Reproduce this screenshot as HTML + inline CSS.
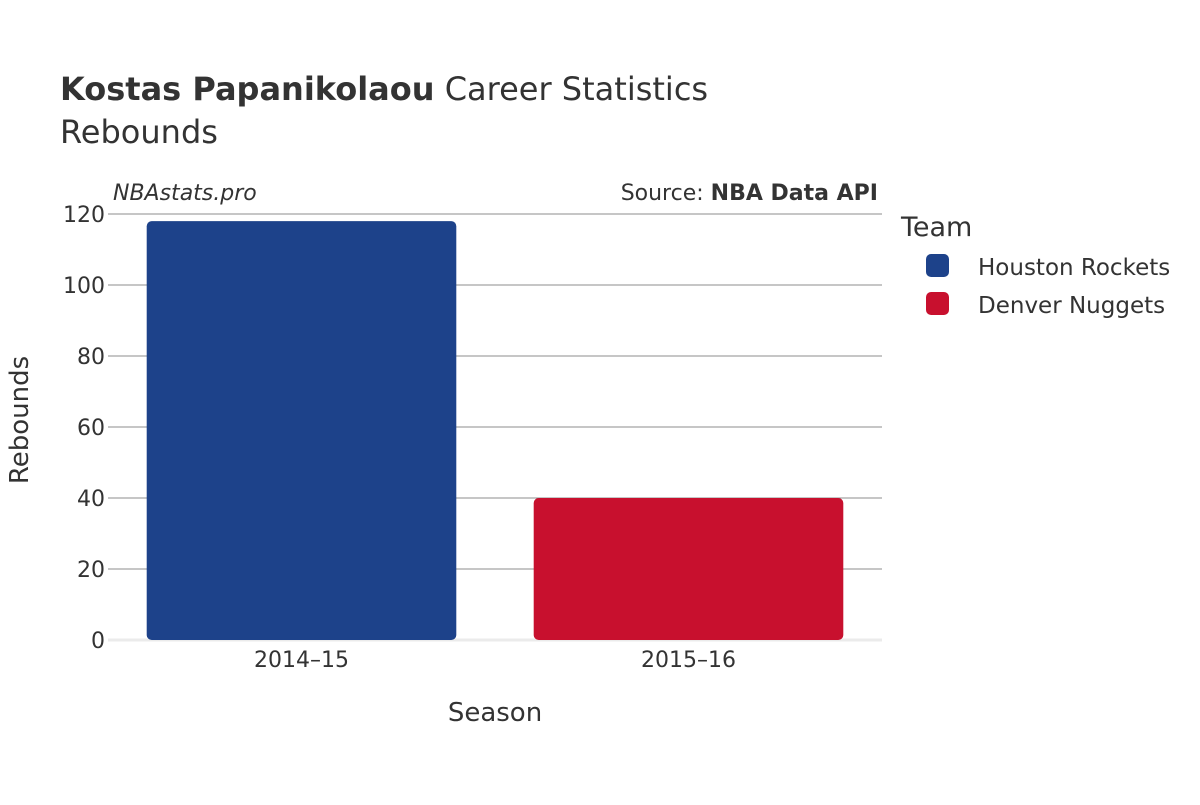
<!DOCTYPE html>
<html><head><meta charset="utf-8"><style>
body{margin:0;background:#fff;}
svg{font-family:"DejaVu Sans","Liberation Sans",sans-serif;}
</style></head><body>
<svg id="chart" width="1200" height="800">
<text x="60" y="100" font-size="32" fill="#333"><tspan font-weight="bold">Kostas Papanikolaou</tspan> Career Statistics</text>
<text x="60" y="143" font-size="32" fill="#333">Rebounds</text>
<text x="113" y="200" font-size="22" font-style="italic" fill="#333">NBAstats.pro</text>
<text x="878" y="200" font-size="22" fill="#333" text-anchor="end">Source: <tspan font-weight="bold">NBA Data API</tspan></text>
<g id="grid"></g>
<g id="yticks"></g>
<g id="bars"></g>
<g id="xticks"></g>
<text x="28" y="420" font-size="26" fill="#333" text-anchor="middle" transform="rotate(-90 28 420)">Rebounds</text>
<text x="495" y="721" font-size="26" fill="#333" text-anchor="middle">Season</text>
<text x="901" y="236" font-size="27" fill="#333">Team</text>
<g id="legend"></g>
</svg>
<script>
const categories=["2014–15","2015–16"];
const values=[118,40];
const teams=["Houston Rockets","Denver Nuggets"];
const colors=["#1d428a","#c8102e"];
const yTicks=[0,20,40,60,80,100,120];
const ns="http://www.w3.org/2000/svg";
const X0=108,X1=882,Y0=640,Y1=214,YMAX=120;
const y=v=>Y0-(v/YMAX)*(Y0-Y1);
const band=(X1-X0)/categories.length;
const xc=i=>X0+band*(i+0.5);
function mk(tag,attrs,parent){const e=document.createElementNS(ns,tag);for(const k in attrs)e.setAttribute(k,attrs[k]);parent.appendChild(e);return e;}
const grid=document.getElementById('grid'),yt=document.getElementById('yticks');
yTicks.forEach(t=>{
  const l=mk('line',{x1:X0,x2:X1,y1:y(t),y2:y(t),stroke:t===0?'#ebebeb':'#8c8c8c','stroke-width':t===0?3:1},grid);
  
  
  const tx=mk('text',{x:X0-3,y:y(t)+8,'font-size':22,fill:'#333','text-anchor':'end'},yt);
  tx.textContent=t;
  
  
});
const bars=document.getElementById('bars'),xt=document.getElementById('xticks');
const bw=band*0.8;
categories.forEach((c,i)=>{
  const r=mk('rect',{x:xc(i)-bw/2,y:y(values[i]),width:bw,height:Y0-y(values[i]),rx:5,fill:colors[i]},bars);
  
  
  const tx=mk('text',{x:xc(i),y:667,'font-size':22,fill:'#333','text-anchor':'middle'},xt);
  tx.textContent=c;
  
  
});
const lg=document.getElementById('legend');
teams.forEach((t,i)=>{
  const r=mk('rect',{x:926,y:254+i*38,width:23,height:23,rx:5,fill:colors[i]},lg);
  
  
  const tx=mk('text',{x:978,y:275+i*38,'font-size':23,fill:'#333'},lg);
  tx.textContent=t;
  
  
});
</script>
</body></html>
